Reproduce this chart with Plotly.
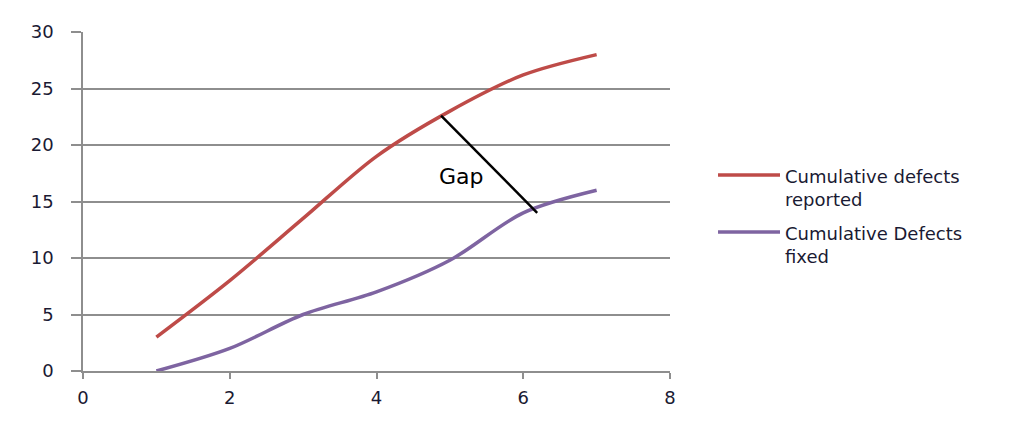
import plotly.graph_objects as go

# Data
x_values = [1, 2, 3, 4, 5, 6, 7]
defects_reported = [3, 8, 13.5, 19, 23, 26.2, 28]
defects_fixed = [0, 2, 5, 7, 9.8, 14, 16]
series_names = ["Cumulative defects<br>reported", "Cumulative Defects<br>fixed"]
series_colors = ["#BE4B48", "#7E64A1"]

x_ticks = [0, 2, 4, 6, 8]
y_ticks = [0, 5, 10, 15, 20, 25, 30]

# "Gap" annotation line endpoints (data units)
gap_x = [4.88, 6.19]
gap_y = [22.6, 14.0]
gap_label_pos = [5.16, 17.2]

FONT = "DejaVu Sans"
GRID = "#8E8E8E"
TEXT = "#1A1A33"

fig = go.Figure()
for vals, col in zip([defects_reported, defects_fixed], series_colors):
    fig.add_trace(go.Scatter(
        x=x_values, y=vals, mode="lines",
        line=dict(color=col, width=3.5, shape="spline", smoothing=0.9),
        showlegend=False, hoverinfo="x+y"))

# Gap line
fig.add_trace(go.Scatter(x=gap_x, y=gap_y, mode="lines",
                         line=dict(color="black", width=2.5),
                         showlegend=False, hoverinfo="skip"))

fig.add_annotation(x=gap_label_pos[0], y=gap_label_pos[1], text="Gap",
                   showarrow=False, font=dict(family=FONT, size=22, color="black"))

# Manual legend (line samples + text)
legend_y = [0.578, 0.410]
for yy, col, name in zip(legend_y, series_colors, series_names):
    fig.add_shape(type="line", xref="paper", yref="paper",
                  x0=1.0818, x1=1.1874, y0=yy, y1=yy,
                  line=dict(color=col, width=3.5))
    fig.add_annotation(xref="paper", yref="paper", x=1.1925, y=yy + 0.032,
                       xanchor="left", yanchor="top", align="left",
                       text=name, showarrow=False,
                       font=dict(family=FONT, size=18, color=TEXT))

fig.update_layout(
    width=1016, height=423,
    margin=dict(l=75, r=354, t=24, b=60),
    paper_bgcolor="white", plot_bgcolor="white",
    font=dict(family=FONT, size=18, color=TEXT),
    xaxis=dict(range=[0, 8], tickvals=x_ticks, showgrid=False, zeroline=False,
               showline=True, linecolor=GRID, linewidth=1.5,
               ticks="outside", ticklen=6, tickcolor=GRID, tickwidth=1.5,
               ticklabelstandoff=4, tickfont=dict(size=18)),
    yaxis=dict(range=[0, 30], tickvals=y_ticks, showgrid=True, gridcolor=GRID,
               gridwidth=1.5, zeroline=False,
               showline=True, linecolor=GRID, linewidth=1.5,
               ticks="outside", ticklen=10, tickcolor=GRID, tickwidth=1.5,
               ticklabelstandoff=14, tickfont=dict(size=18)),
)

fig.write_html("out.html")
